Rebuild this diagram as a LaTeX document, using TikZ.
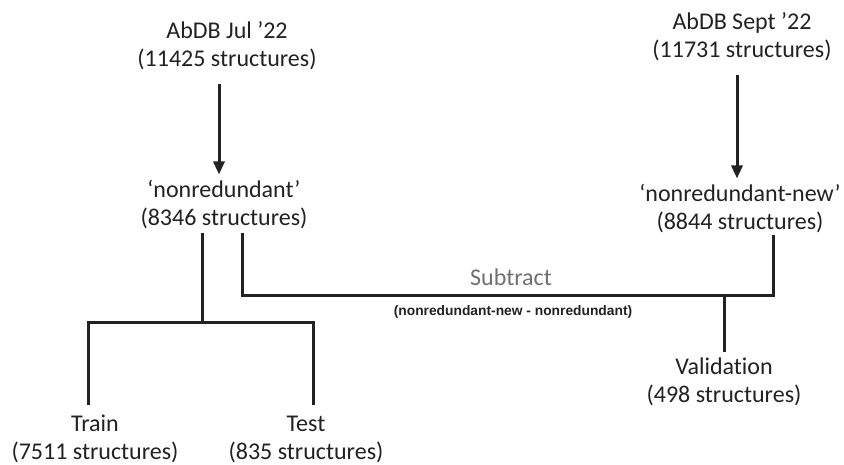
\documentclass[tikz,border=0pt]{standalone}
\usepackage{fontspec}
\setmainfont{Carlito}[Ligatures=NoCommon]
\newfontfamily\formulafont{Liberation Sans}
\usetikzlibrary{arrows.meta}

\definecolor{inkgray}{HTML}{222222}
\definecolor{labelgray}{HTML}{707070}

\tikzset{
  dataset/.style={align=center, text=inkgray, font=\fontsize{24}{28}\selectfont, inner sep=0pt},
  link/.style={draw=inkgray, line width=3pt},
  flow/.style={link, -{Triangle[length=13pt,width=11pt]}},
}

\begin{document}
\begin{tikzpicture}[x=1pt, y=-1pt]
    \useasboundingbox[fill=white] (0,0) rectangle (844,464);

    % Source datasets and their filtered sets
    \node[dataset] (jul)  at (227, 46)  {AbDB Jul ’22\\(11425 structures)};
    \node[dataset] (sept) at (742, 37)  {AbDB Sept ’22\\(11731 structures)};
    \node[dataset] (nr)   at (224, 205) {‘nonredundant’\\(8346 structures)};
    \node[dataset] (nrn)  at (740, 209) {‘nonredundant-new’\\(8844 structures)};

    % Splits
    \node[dataset] (train) at (95, 439)  {Train\\(7511 structures)};
    \node[dataset] (test)  at (306, 439) {Test\\(835 structures)};
    \node[dataset] (val)   at (724, 382) {Validation\\(498 structures)};

    % Subtract labels
    \node[font=\fontsize{24}{28}\selectfont, text=labelgray] (sub) at (511, 277) {Subtract};
    \node[font=\formulafont\bfseries\fontsize{13.8}{16}\selectfont, text=inkgray] (diff) at (513, 312)
      {(nonredundant-new - nonredundant)};

    % Junction points
    \coordinate (cSplit) at (202, 322);
    \coordinate (cTrain) at (88, 405);
    \coordinate (cTest)  at (313, 405);
    \coordinate (cJoin)  at (724, 295);

    % Filtering arrows
    \draw[flow, shorten <=14pt, shorten >=6pt] ([xshift=-8pt]jul.south) -- ([xshift=-8pt]jul.south |- nr.north);
    \draw[flow, shorten <=14pt, shorten >=6pt] ([xshift=-5pt]sept.south) -- ([xshift=-5pt]sept.south |- nrn.north);

    % Train / test split
    \draw[link] ([xshift=-22pt, yshift=-3pt]nr.south) -- (cSplit);
    \draw[link] (cTrain) |- (cSplit) -| (cTest);

    % Subtract bracket to validation
    \draw[link] ([xshift=18pt, yshift=-3pt]nr.south) |- (cJoin) -| ([xshift=33pt, yshift=-1pt]nrn.south);
    \draw[link] (cJoin) -- ([yshift=6pt]val.north);
\end{tikzpicture}
\end{document}
